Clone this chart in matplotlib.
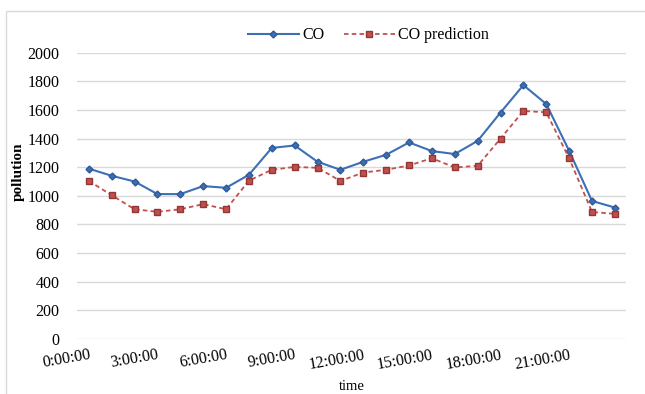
import matplotlib
matplotlib.use("Agg")
import matplotlib.pyplot as plt
from matplotlib.patches import Rectangle

# hourly CO concentration, measured vs predicted
hours = list(range(24))
co = [1190, 1140, 1100, 1012, 1012, 1068, 1056, 1147, 1335, 1352, 1238, 1182,
      1238, 1287, 1373, 1313, 1292, 1384, 1582, 1774, 1642, 1315, 964, 918]
co_pred = [1104, 1004, 906, 888, 906, 942, 906, 1106, 1182, 1202, 1196, 1104,
           1163, 1182, 1212, 1263, 1198, 1210, 1400, 1593, 1584, 1263, 887, 874]
tick_pos = [0, 3, 6, 9, 12, 15, 18, 21]
tick_labels = ["0:00:00", "3:00:00", "6:00:00", "9:00:00", "12:00:00",
               "15:00:00", "18:00:00", "21:00:00"]

plt.rcParams['font.family'] = ['Liberation Serif', 'DejaVu Serif']

fig = plt.figure(figsize=(6.45, 3.94), dpi=100)
ax = fig.add_axes([0.120, 0.140, 0.851, 0.726])

# outer chart frame (left + top visible)
fig.patches.append(Rectangle((6 / 645, -0.01), 1.0, 1 - 11 / 394 + 0.01,
                             transform=fig.transFigure, fill=False,
                             edgecolor='#d9d9d9', linewidth=1.0))

ax.plot(hours, co, color='#3d6fb6', linewidth=1.5, marker='D', markersize=3.5,
        markerfacecolor='#3d6fb6', markeredgecolor='#2f5a96', label='CO', zorder=3)
ax.plot(hours, co_pred, color='#c0504d', linewidth=1.3, linestyle=(0, (2.5, 1.8)),
        marker='s', markersize=4, markerfacecolor='#c0504d',
        markeredgecolor='#943634', label='CO prediction', zorder=3)

ax.set_xlim(-0.5, 23.5)
ax.set_ylim(0, 2000)
ax.set_yticks(range(0, 2001, 200))
ax.yaxis.grid(True, color='#d9d9d9', linewidth=1.0)
ax.set_axisbelow(True)
for s in ax.spines.values():
    s.set_visible(False)
ax.tick_params(axis='both', length=0, labelsize=11.5)
ax.tick_params(axis='y', pad=13)

ax.set_xticks(tick_pos)
ax.set_xticklabels(tick_labels, rotation=10, ha='right', va='top',
                   rotation_mode='anchor')
ax.tick_params(axis='x', pad=6)

ax.set_xlabel('time', fontsize=10.5, labelpad=5)
ax.set_ylabel('pollution', fontsize=11, fontweight='bold')
ax.yaxis.set_label_coords(-0.096, 0.585)

ax.legend(loc='upper center', bbox_to_anchor=(0.53, 1.14), ncol=2, frameon=False,
          fontsize=11.5, handlelength=3.2, handletextpad=0.2, columnspacing=1.2)

fig.savefig('out.png', dpi=100)
